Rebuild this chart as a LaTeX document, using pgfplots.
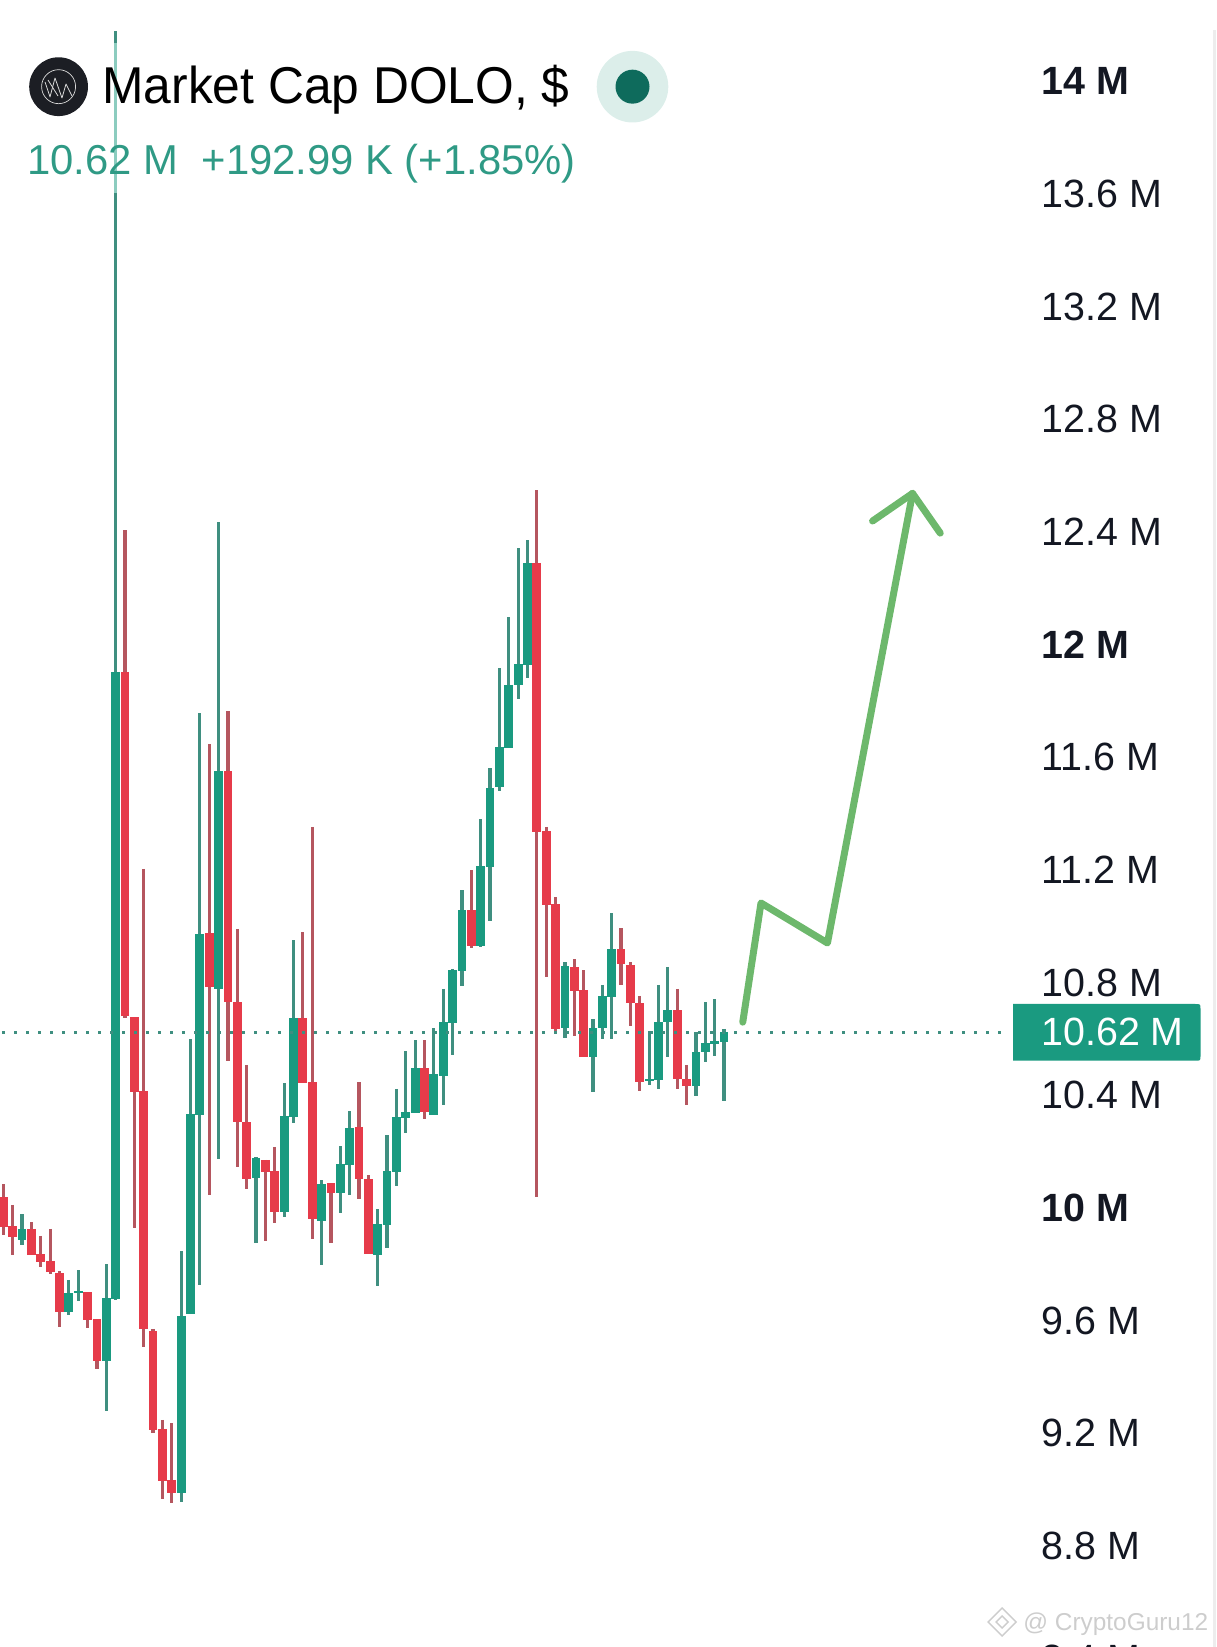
\documentclass[border=0pt]{standalone}
\usepackage{pgfplots}
\pgfplotsset{compat=1.18}
\usepackage{fontspec}
\setmainfont{Liberation Sans}
\definecolor{gbody}{HTML}{1A9A80}
\definecolor{gwick}{HTML}{3F8F80}
\definecolor{rbody}{HTML}{E63B4A}
\definecolor{rwick}{HTML}{B5565F}
\definecolor{txtc}{HTML}{131722}
\definecolor{hdrg}{HTML}{2F9A85}
\definecolor{arrowg}{HTML}{6DB86C}
\definecolor{darkdot}{HTML}{0E6B5C}
\definecolor{paledot}{HTML}{DCEEEA}
\definecolor{logoc}{HTML}{1C1E24}
\definecolor{wm}{HTML}{CDCDCD}
\newcommand{\Gc}[5]{%
  \addplot[gwick,line width=1.6pt] coordinates {(#1,#2)(#1,#5)};
  \addplot[gbody,line width=4.4pt] coordinates {(#1,#3)(#1,#4)};}
\newcommand{\Rc}[5]{%
  \addplot[rwick,line width=1.6pt] coordinates {(#1,#2)(#1,#5)};
  \addplot[rbody,line width=4.4pt] coordinates {(#1,#3)(#1,#4)};}
\newcommand{\PX}[2]{({#1*0.5pt},{(1647-#2)*0.5pt})}
\begin{document}
\begin{tikzpicture}
\path[use as bounding box] (0,0) rectangle (608pt,823.5pt);
\begin{axis}[
  at={(0,0)},anchor=south west,
  scale only axis,width=517.5pt,height=823.5pt,
  xmin=-0.3526,xmax=110.224,ymin=8.438,ymax=14.2845,
  clip=false,
  axis line style={draw=none},
  xtick=\empty,
  ytick pos=right,
  yticklabel pos=right,
  major tick length=0pt,
  ytick={8.8,9.2,9.6,10,10.4,10.8,11.2,11.6,12,12.4,12.8,13.2,13.6,14},
  yticklabels={8.8 M,9.2 M,9.6 M,\textbf{10 M},10.4 M,10.8 M,11.2 M,11.6 M,\textbf{12 M},12.4 M,12.8 M,13.2 M,13.6 M,\textbf{14 M}},
  yticklabel style={font=\fontsize{19.7}{22}\selectfont,text=txtc,anchor=west,inner sep=0pt,xshift=3.2pt,yshift=-0.5pt},
]
\Rc{0}{10.081}{10.035}{9.929}{9.900}
\Rc{1}{10.007}{9.932}{9.893}{9.829}
\Gc{2}{9.975}{9.922}{9.882}{9.865}
\Rc{3}{9.946}{9.922}{9.829}{9.829}
\Rc{4}{9.897}{9.833}{9.804}{9.787}
\Rc{5}{9.922}{9.808}{9.769}{9.762}
\Rc{6}{9.772}{9.765}{9.627}{9.574}
\Gc{7}{9.741}{9.694}{9.627}{9.616}
\Gc{8}{9.776}{9.701}{9.694}{9.666}
\Rc{9}{9.698}{9.698}{9.598}{9.570}
\Rc{10}{9.602}{9.602}{9.453}{9.425}
\Gc{11}{9.797}{9.677}{9.453}{9.275}
\Gc{12}{14.174}{11.899}{9.673}{9.669}
\Rc{13}{12.403}{11.899}{10.678}{10.671}
\Rc{14}{10.674}{10.674}{10.408}{9.925}
\Rc{15}{11.200}{10.411}{9.567}{9.503}
\Rc{16}{9.567}{9.560}{9.208}{9.197}
\Rc{17}{9.244}{9.212}{9.027}{8.963}
\Rc{18}{9.233}{9.031}{8.984}{8.949}
\Gc{19}{9.843}{9.613}{8.984}{8.952}
\Gc{20}{10.596}{10.330}{9.620}{9.620}
\Gc{21}{11.753}{10.969}{10.326}{9.723}
\Rc{22}{11.643}{10.972}{10.781}{10.042}
\Gc{23}{12.431}{11.547}{10.774}{10.170}
\Rc{24}{11.760}{11.547}{10.727}{10.518}
\Rc{25}{10.987}{10.727}{10.301}{10.142}
\Rc{26}{10.504}{10.301}{10.099}{10.063}
\Gc{27}{10.177}{10.174}{10.103}{9.872}
\Rc{28}{10.167}{10.167}{10.124}{9.879}
\Rc{29}{10.213}{10.127}{9.982}{9.943}
\Gc{30}{10.440}{10.323}{9.982}{9.964}
\Gc{31}{10.947}{10.671}{10.319}{10.298}
\Rc{32}{10.976}{10.671}{10.440}{10.440}
\Rc{33}{11.349}{10.443}{9.957}{9.886}
\Gc{34}{10.095}{10.081}{9.950}{9.794}
\Rc{35}{10.085}{10.085}{10.049}{9.872}
\Gc{36}{10.216}{10.152}{10.049}{9.978}
\Gc{37}{10.340}{10.280}{10.149}{10.042}
\Rc{38}{10.443}{10.284}{10.099}{10.028}
\Rc{39}{10.113}{10.099}{9.833}{9.833}
\Gc{40}{9.992}{9.939}{9.829}{9.719}
\Gc{41}{10.255}{10.127}{9.936}{9.854}
\Gc{42}{10.419}{10.319}{10.124}{10.074}
\Gc{43}{10.553}{10.337}{10.315}{10.262}
\Gc{44}{10.592}{10.493}{10.333}{10.333}
\Rc{45}{10.592}{10.493}{10.337}{10.312}
\Gc{46}{10.635}{10.472}{10.326}{10.326}
\Gc{47}{10.774}{10.656}{10.465}{10.362}
\Gc{48}{10.845}{10.841}{10.653}{10.539}
\Gc{49}{11.125}{11.054}{10.837}{10.784}
\Rc{50}{11.196}{11.054}{10.926}{10.919}
\Gc{51}{11.377}{11.210}{10.926}{10.923}
\Gc{52}{11.558}{11.487}{11.207}{11.015}
\Gc{53}{11.913}{11.633}{11.491}{11.476}
\Gc{54}{12.094}{11.853}{11.629}{11.629}
\Gc{55}{12.339}{11.927}{11.853}{11.803}
\Gc{56}{12.367}{12.286}{11.924}{11.878}
\Rc{57}{12.545}{12.286}{11.331}{10.035}
\Rc{58}{11.349}{11.334}{11.072}{10.816}
\Rc{59}{11.100}{11.075}{10.632}{10.625}
\Gc{60}{10.869}{10.855}{10.635}{10.600}
\Rc{61}{10.880}{10.852}{10.766}{10.607}
\Rc{62}{10.841}{10.770}{10.532}{10.532}
\Gc{63}{10.667}{10.635}{10.532}{10.408}
\Gc{64}{10.788}{10.749}{10.635}{10.596}
\Gc{65}{11.043}{10.915}{10.745}{10.596}
\Rc{66}{10.990}{10.915}{10.862}{10.788}
\Rc{67}{10.869}{10.859}{10.724}{10.642}
\Rc{68}{10.749}{10.724}{10.443}{10.411}
\Gc{69}{10.625}{10.454}{10.447}{10.433}
\Gc{70}{10.788}{10.656}{10.451}{10.419}
\Gc{71}{10.852}{10.699}{10.656}{10.532}
\Rc{72}{10.774}{10.699}{10.454}{10.419}
\Rc{73}{10.504}{10.454}{10.429}{10.362}
\Gc{74}{10.621}{10.550}{10.429}{10.394}
\Gc{75}{10.727}{10.582}{10.550}{10.515}
\Gc{76}{10.738}{10.589}{10.579}{10.536}
\Gc{77}{10.632}{10.621}{10.586}{10.376}
% last-price dotted line
\addplot[gwick,line width=1.4pt,dash pattern=on 1.4pt off 4.6pt] coordinates {(-0.1,10.62)(107.55,10.62)};
% pale part of the tall wick beneath the header
\addplot[color=gbody!50!white,line width=1.6pt] coordinates {(12,14.132)(12,13.599)};
% drawn arrow
\addplot[arrowg,line width=3.5pt,line join=round,line cap=round] coordinates {(79.0,10.656)(80.95,11.079)(88.05,10.937)(97.14,12.533)};
\addplot[arrowg,line width=3.5pt,line join=round,line cap=round] coordinates {(92.87,12.435)(97.14,12.533)(100.1,12.392)};
% partly cut tick label
\node[anchor=west,inner sep=0pt,xshift=3.2pt,yshift=-0.5pt,text=txtc,font=\fontsize{19.7}{22}\selectfont] at (axis cs:110.224,8.4) {8.4 M};
\end{axis}
% right edge
\fill[black!7] \PX{1213}{30} rectangle \PX{1216}{1647};
% current price tag
\fill[gbody] \PX{1013}{1004} -- \PX{1195}{1004} .. controls \PX{1200.5}{1004} and \PX{1200.5}{1004} .. \PX{1200.5}{1009} -- \PX{1200.5}{1056} .. controls \PX{1200.5}{1060.7} and \PX{1200.5}{1060.7} .. \PX{1195}{1060.7} -- \PX{1013}{1060.7} -- cycle;
\node[anchor=base west,inner sep=0pt,text=white,font=\fontsize{19.7}{22}\selectfont] at \PX{1041}{1046} {10.62 M};
% header
\fill[logoc] \PX{58.6}{86.7} circle (14.7pt);
\draw[white!85!black,line width=0.35pt] \PX{58.6}{86.7} circle (8.5pt);
\draw[white!85!black,line width=0.4pt,line join=round] \PX{45}{82} -- \PX{50}{97} -- \PX{55}{78} -- \PX{62}{98} -- \PX{66}{84} -- \PX{72}{96};
\draw[white!85!black,line width=0.4pt,line join=round] \PX{48}{80} -- \PX{58}{96};
\node[anchor=base west,inner sep=0pt,text=black,font=\fontsize{25.9}{30}\selectfont,xscale=0.96] at \PX{102}{104} {Market Cap DOLO, \$};
\fill[paledot] \PX{632.5}{86.7} circle (17.9pt);
\fill[darkdot] \PX{632.5}{86.7} circle (8.5pt);
\node[anchor=base west,inner sep=0pt,text=hdrg,font=\fontsize{20.9}{24}\selectfont] at \PX{27}{175} {10.62 M\ \ +192.99 K (+1.85\%)};
% watermark
\node[anchor=base west,inner sep=0pt,text=wm,font=\fontsize{12.2}{14}\selectfont] at \PX{1023}{1630} {@ CryptoGuru12};
\draw[wm,line width=0.7pt] \PX{1002}{1608} -- \PX{1016}{1622} -- \PX{1002}{1636} -- \PX{988}{1622} -- cycle;
\draw[wm,line width=0.7pt] \PX{1002}{1616} -- \PX{1008}{1622} -- \PX{1002}{1628} -- \PX{996}{1622} -- cycle;
\end{tikzpicture}
\end{document}
